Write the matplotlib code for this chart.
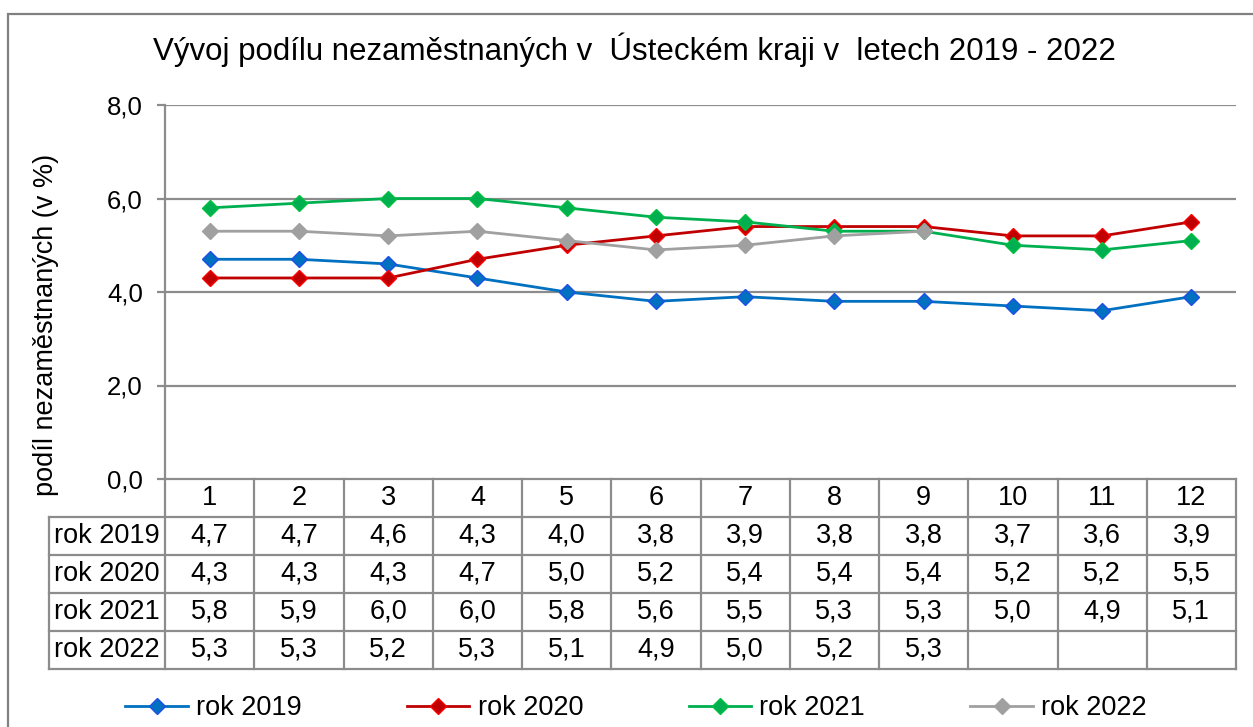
import matplotlib.pyplot as plt
import numpy as np
from matplotlib.patches import Rectangle

plt.rcParams['font.family'] = ['Liberation Sans', 'DejaVu Sans']

# data
months = list(range(1, 13))
series_names = ["rok 2019", "rok 2020", "rok 2021", "rok 2022"]
rok2019 = [4.7, 4.7, 4.6, 4.3, 4.0, 3.8, 3.9, 3.8, 3.8, 3.7, 3.6, 3.9]
rok2020 = [4.3, 4.3, 4.3, 4.7, 5.0, 5.2, 5.4, 5.4, 5.4, 5.2, 5.2, 5.5]
rok2021 = [5.8, 5.9, 6.0, 6.0, 5.8, 5.6, 5.5, 5.3, 5.3, 5.0, 4.9, 5.1]
rok2022 = [5.3, 5.3, 5.2, 5.3, 5.1, 4.9, 5.0, 5.2, 5.3, None, None, None]
y_ticks = [0, 2, 4, 6, 8]

line_colors = ['#0070C0', '#C00000', '#00B050', '#A0A0A0']
marker_edges = ['#1F4FE8', '#FF0000', '#00C040', '#A0A0A0']
grid_col = '#8C8C8C'

W, H = 1253, 727
fig = plt.figure(figsize=(W / 100, H / 100), dpi=100)

def box(x0, y0, x1, y1):
    return [x0 / W, 1 - y1 / H, (x1 - x0) / W, (y1 - y0) / H]

# outer frame
fig.patches.append(Rectangle((8 / W, -0.1), 1.2, 1 - 14 / H + 0.1, transform=fig.transFigure,
                             fill=False, ec='#808080', lw=1.6))

ax = fig.add_axes(box(165, 105, 1236, 479))
all_series = [rok2019, rok2020, rok2021, rok2022]
for vals, name, c, me in zip(all_series, series_names, line_colors, marker_edges):
    y = np.array([np.nan if v is None else v for v in vals])
    ax.plot(months, y, color=c, lw=2, marker='D', markersize=8.5,
            markerfacecolor=c, markeredgecolor=me, markeredgewidth=1, label=name)

ax.set_xlim(0.5, 12.5)
ax.set_ylim(0, 8)
ax.set_yticks(y_ticks)
ax.set_yticklabels([f"{t:.1f}".replace('.', ',') for t in y_ticks], fontsize=18.5)
ax.set_xticks([])
for t in y_ticks[1:]:
    ax.axhline(t, color=grid_col, lw=1.6, zorder=0)
for s in ['top', 'right']:
    ax.spines[s].set_visible(False)
for s in ['left', 'bottom']:
    ax.spines[s].set_color(grid_col)
    ax.spines[s].set_linewidth(1.6)
ax.tick_params(axis='y', length=6, width=1.6, color=grid_col, pad=10)

fig.text(46 / W, 1 - 325 / H, "podíl nezaměstnaných (v %)", rotation=90,
         ha='center', va='center', fontsize=19.5)
fig.text(634 / W, 1 - 50 / H, "Vývoj podílu nezaměstnaných v  Ústeckém kraji v  letech 2019 - 2022",
         ha='center', va='center', fontsize=22.5)

# data table
tab = fig.add_axes(box(165, 479, 1236, 669))
tab.set_xlim(0.5, 12.5)
tab.set_ylim(5, 0)
tab.axis('off')
left_x = 0.5 - (165 - 49) / (1071 / 12)
for r in range(1, 6):
    tab.plot([left_x, 12.5], [r, r], color=grid_col, lw=1.6, clip_on=False)
for k in range(13):
    tab.plot([0.5 + k, 0.5 + k], [0, 5], color=grid_col, lw=1.6, clip_on=False)
tab.plot([left_x, left_x], [1, 5], color=grid_col, lw=1.6, clip_on=False)
for m in months:
    tab.text(m, 0.5, str(m), ha='center', va='center', fontsize=19.5)
for r, (vals, name) in enumerate(zip(all_series, series_names), start=1):
    tab.text((left_x + 0.5) / 2, r + 0.5, name, ha='center', va='center', fontsize=19.5, clip_on=False)
    for m, v in zip(months, vals):
        if v is not None:
            tab.text(m, r + 0.5, f"{v:.1f}".replace('.', ','), ha='center', va='center', fontsize=19.5)

handles, labels = ax.get_legend_handles_labels()
fig.legend(handles, labels, loc='center', bbox_to_anchor=(636 / W, 1 - 708 / H), ncol=4,
           frameon=False, fontsize=19.5, handlelength=2.3, handletextpad=0.3, columnspacing=3.9)

fig.savefig('out.png', dpi=100)
